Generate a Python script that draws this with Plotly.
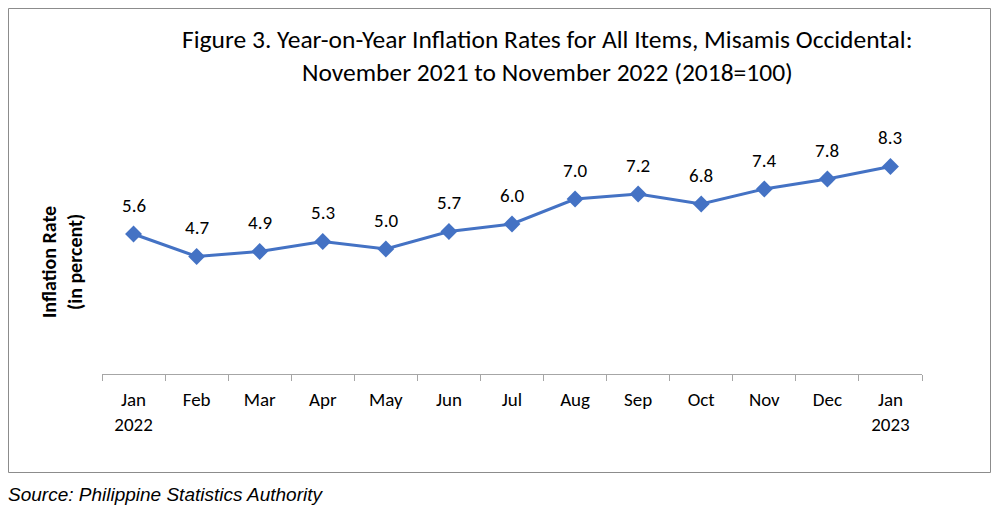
import plotly.graph_objects as go

months = ["Jan<br>2022", "Feb", "Mar", "Apr", "May", "Jun", "Jul", "Aug", "Sep", "Oct", "Nov", "Dec", "Jan<br>2023"]
rates = [5.6, 4.7, 4.9, 5.3, 5.0, 5.7, 6.0, 7.0, 7.2, 6.8, 7.4, 7.8, 8.3]

FONT = "Calibri, Carlito, Lato, sans-serif"
BLUE = "#4472C4"

OFF = 8  # page body margin
W, H = 990, 512
# target page pixel positions of plot area
PL, PR, PT, PB = 102, 922, 124, 374
L, T = PL - OFF, PT - OFF
R = W - (PR - OFF)
B = H - (PB - OFF)
pw, ph = PR - PL, PB - PT

def px(x):
    return (x - PL) / pw

def py(y):
    return (PB - y) / ph

fig = go.Figure()
fig.add_trace(go.Scatter(
    x=months, y=rates, mode="lines+markers",
    line=dict(color=BLUE, width=3),
    marker=dict(symbol="diamond", size=13, color=BLUE),
    hoverinfo="skip", showlegend=False,
))

annotations = []
for m, v in zip(months, rates):
    annotations.append(dict(x=m, y=v, xref="x", yref="y", text=f"{v:.1f}",
                            showarrow=False, yshift=29,
                            font=dict(family=FONT, size=19, color="#000000")))

annotations.append(dict(x=px(547), y=py(40), xref="paper", yref="paper",
                        text="Figure 3. Year-on-Year Inflation Rates for All Items, Misamis Occidental:",
                        showarrow=False, xanchor="center", yanchor="middle",
                        font=dict(family=FONT, size=25.5, color="#000000")))
annotations.append(dict(x=px(547), y=py(72), xref="paper", yref="paper",
                        text="November 2021 to November 2022 (2018=100)",
                        showarrow=False, xanchor="center", yanchor="middle",
                        font=dict(family=FONT, size=25.5, color="#000000")))
annotations.append(dict(x=px(62), y=py(262), xref="paper", yref="paper",
                        text="<b>Inflation Rate<br>(in percent)</b>", textangle=-90,
                        showarrow=False, xanchor="center", yanchor="middle",
                        font=dict(family=FONT, size=20, color="#000000")))
annotations.append(dict(x=px(6), y=py(494), xref="paper", yref="paper",
                        text="<i>Source: Philippine Statistics Authority</i>",
                        showarrow=False, xanchor="left", yanchor="middle",
                        font=dict(family="Arial, Liberation Sans, sans-serif", size=19, color="#000000")))

fig.update_layout(
    width=W, height=H,
    margin=dict(l=L, r=R, t=T, b=B),
    paper_bgcolor="white", plot_bgcolor="white",
    annotations=annotations,
    shapes=[dict(type="rect", xref="paper", yref="paper",
                 x0=px(8.5), x1=px(990.5), y0=py(472.5), y1=py(8.5),
                 line=dict(color="#8c8c8c", width=1), fillcolor="rgba(0,0,0,0)", layer="below")],
    xaxis=dict(type="category", range=[-0.5, len(months) - 0.5],
               showline=True, linecolor="#a6a6a6", linewidth=1,
               ticks="outside", tickson="boundaries", ticklen=6, tickcolor="#a6a6a6",
               showgrid=False, zeroline=False, ticklabelstandoff=8,
               tickfont=dict(family=FONT, size=19, color="#000000")),
    yaxis=dict(range=[0, 10], visible=False, showgrid=False, zeroline=False),
)

fig.write_html("out.html")
